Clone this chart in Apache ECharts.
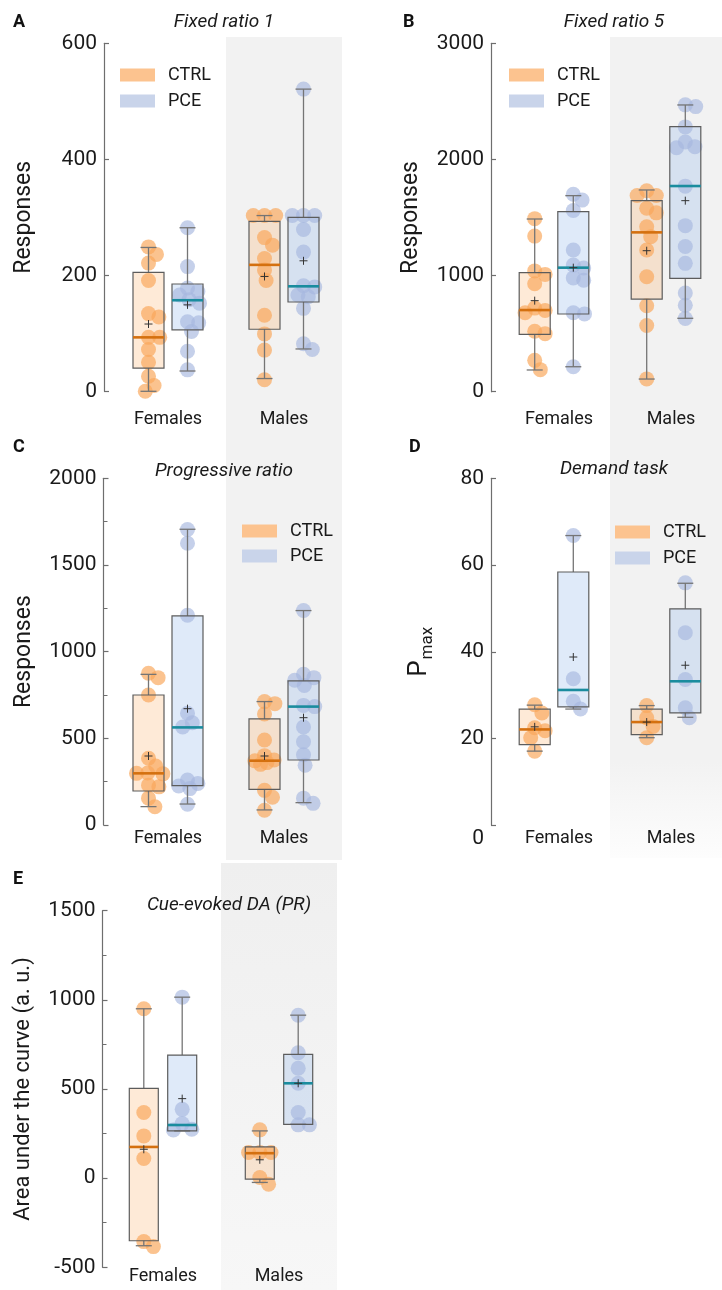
<!DOCTYPE html>
<html><head><meta charset="utf-8">
<script src="https://cdn.jsdelivr.net/npm/echarts@6/dist/echarts.min.js"></script>
<style>html,body{margin:0;padding:0;background:#fff}#c{width:722px;height:1290px}</style>
</head><body><div id="c"></div>
<script>
const FONT = 'Roboto, "Noto Sans", sans-serif';
const categories = ['Females', 'Males'];
const treatments = ['CTRL', 'PCE'];

// ---- A: Fixed ratio 1 ----
const fr1Ticks = [0, 200, 400, 600];
const fr1CtrlFemales = [249, 236, 221, 191, 134, 128, 93, 93, 72, 50, 26, 10, 0];
const fr1CtrlMales = [303, 303, 303, 265, 252, 229, 209, 191, 131, 99, 71, 20];
const fr1PceFemales = [282, 215, 178, 172, 166, 158, 152, 120, 118, 103, 69, 37];
const fr1PceMales = [521, 303, 303, 303, 279, 240, 182, 180, 166, 163, 143, 82, 72];
// [min, q1, median, q3, max, mean] for Females, Males
const fr1CtrlBox = [[0, 40, 93, 205, 248, 116], [22, 107, 218, 293, 303, 198]];
const fr1PceBox = [[35, 106, 157, 185, 282, 149], [73, 154, 181, 300, 521, 225]];

// ---- B: Fixed ratio 5 ----
const fr5Ticks = [0, 1000, 2000, 3000];
const fr5CtrlFemales = [1490, 1340, 1040, 1010, 930, 720, 700, 680, 520, 500, 270, 190];
const fr5CtrlMales = [1730, 1690, 1690, 1580, 1540, 1420, 1335, 1220, 990, 740, 570, 110];
const fr5PceFemales = [1700, 1650, 1560, 1220, 1090, 1065, 980, 960, 680, 670, 215];
const fr5PceMales = [2470, 2455, 2280, 2150, 2110, 2100, 1770, 1430, 1250, 1105, 850, 745, 630];
const fr5CtrlBox = [[187, 494, 703, 1025, 1487, 784], [109, 798, 1372, 1645, 1737, 1214]];
const fr5PceBox = [[215, 669, 1068, 1550, 1688, 1068], [632, 976, 1771, 2282, 2469, 1645]];

// ---- C: Progressive ratio ----
const prTicks = [0, 500, 1000, 1500, 2000];
const prCtrlFemales = [875, 850, 750, 385, 340, 300, 298, 295, 230, 220, 155, 105];
const prCtrlMales = [712, 700, 640, 490, 400, 375, 370, 360, 350, 200, 160, 85];
const prPceFemales = [1705, 1625, 1210, 645, 590, 565, 260, 240, 225, 210, 120];
const prPceMales = [1237, 870, 850, 835, 805, 690, 683, 565, 480, 405, 345, 155, 125];
const prCtrlBox = [[106, 196, 298, 750, 869, 398], [87, 206, 371, 612, 712, 398]];
const prPceBox = [[121, 227, 563, 1206, 1706, 671], [129, 375, 683, 831, 1237, 619]];

// ---- D: Demand task ----
const dtTicks = [0, 20, 40, 60, 80];
const dtCtrlFemales = [27.8, 25.9, 22.5, 21.8, 20.2, 17.1];
const dtCtrlMales = [27.6, 24.8, 22.8, 20.2];
const dtPceFemales = [66.8, 33.8, 28.6, 26.8];
const dtPceMales = [55.9, 44.4, 33.6, 27.1, 24.8];
const dtCtrlBox = [[17.1, 18.6, 22.1, 26.8, 27.7, 22.7], [20.2, 20.9, 23.8, 26.8, 27.6, 23.8]];
const dtPceBox = [[26.8, 27.3, 31.2, 58.4, 66.8, 38.8], [24.9, 25.9, 33.2, 49.9, 55.8, 36.9]];

// ---- E: Cue-evoked DA (PR) ----
const daTicks = [-500, 0, 500, 1000, 1500];
const daCtrlFemales = [950, 368, 237, 110, -356, -384];
const daCtrlMales = [271, 144, 144, 144, 4, -34];
const daPceFemales = [1015, 386, 306, 274, 270];
const daPceMales = [914, 703, 616, 532, 368, 299, 299];
const daCtrlBox = [[-379, -351, 175, 504, 950, 162], [-24, -6, 140, 175, 265, 103]];
const daPceBox = [[265, 265, 298, 690, 1015, 446], [302, 302, 532, 694, 914, 532]];

const panels = [
  {letter: 'A', title: 'Fixed ratio 1', yName: 'Responses', ticks: fr1Ticks,
   box: {CTRL: fr1CtrlBox, PCE: fr1PceBox}, pts: {CTRL: [fr1CtrlFemales, fr1CtrlMales], PCE: [fr1PceFemales, fr1PceMales]}},
  {letter: 'B', title: 'Fixed ratio 5', yName: 'Responses', ticks: fr5Ticks,
   box: {CTRL: fr5CtrlBox, PCE: fr5PceBox}, pts: {CTRL: [fr5CtrlFemales, fr5CtrlMales], PCE: [fr5PceFemales, fr5PceMales]}},
  {letter: 'C', title: 'Progressive ratio', yName: 'Responses', ticks: prTicks,
   box: {CTRL: prCtrlBox, PCE: prPceBox}, pts: {CTRL: [prCtrlFemales, prCtrlMales], PCE: [prPceFemales, prPceMales]}},
  {letter: 'D', title: 'Demand task', yName: '{p|P}{s|max}', ticks: dtTicks,
   box: {CTRL: dtCtrlBox, PCE: dtPceBox}, pts: {CTRL: [dtCtrlFemales, dtCtrlMales], PCE: [dtPceFemales, dtPceMales]}},
  {letter: 'E', title: 'Cue-evoked DA (PR)', yName: 'Area under the curve (a. u.)', ticks: daTicks,
   box: {CTRL: daCtrlBox, PCE: daPceBox}, pts: {CTRL: [daCtrlFemales, daCtrlMales], PCE: [daPceFemales, daPceMales]}}
];

// ---- layout (pixels) ----
const layouts = [
  {left: 110, top: 43.3, width: 232, height: 348, axOff: 6, nameGap: 68, lblMargin: 19, lblPad: 0, minor: false,
   bg: [37, 420], grad: null, legend: {left: 115, top: 61, gap: 8}, title: [224, 22], letter: [13, 22], boxW: 31, boxOff: 19.5},
  {left: 498, top: 43.3, width: 232, height: 348.4, axOff: 7, nameGap: 68, lblMargin: 19, lblPad: 10, minor: false,
   bg: [37, 420], grad: null, legend: {left: 504, top: 61, gap: 8}, title: [614, 22], letter: [403, 22], boxW: 31, boxOff: 19.3},
  {left: 110, top: 478.3, width: 232, height: 346.7, axOff: 6.5, nameGap: 68, lblMargin: 4, lblPad: 0, minor: true,
   bg: [420, 860], grad: null, legend: {left: 237, top: 517, gap: 7}, title: [224, 471], letter: [13, 447], boxW: 31, boxOff: 19.5},
  {left: 498, top: 478.3, width: 232, height: 347, axOff: 7, nameGap: 55, lblMargin: 4, lblPad: 10, minor: false,
   bg: [420, 858], grad: [{offset: 0, color: '#f2f2f2'}, {offset: 0.78, color: '#f2f2f2'}, {offset: 1, color: '#fdfdfd'}],
   legend: {left: 610, top: 518, gap: 8}, title: [614, 469], letter: [409, 447], boxW: 31, boxOff: 19.3},
  {left: 105, top: 910.7, width: 232, height: 356.6, axOff: 2.5, nameGap: 68, lblMargin: 0, lblPad: 0, minor: true,
   bg: [863, 1290], grad: [{offset: 0, color: '#efefef'}, {offset: 1, color: '#f7f7f7'}],
   legend: null, title: [229, 905], letter: [13, 879], boxW: 29, boxOff: 19.2}
];

const style = {
  CTRL: {swatch: '#fcc38f', point: 'rgba(249,166,90,0.68)', fill: 'rgba(250,180,110,0.28)', median: '#d4700f'},
  PCE: {swatch: '#c9d4ea', point: 'rgba(166,183,222,0.65)', fill: 'rgba(150,185,235,0.3)', median: '#1a8c9e'}
};
const dir = {CTRL: -1, PCE: 1};

function swarm(ys, minD, maxOff) {
  const order = ys.map((y, i) => i).sort((a, b) => ys[a] - ys[b]);
  const placed = [];
  const off = new Array(ys.length).fill(0);
  const cands = [0];
  for (let k = 1; k <= 30; k++) { cands.push(k * 0.8, -k * 0.8); }
  for (const i of order) {
    let best = null, bestScore = -1, bestDx = 0;
    for (const dx of cands) {
      if (Math.abs(dx) > maxOff) continue;
      let mn = Infinity;
      for (const p of placed) {
        const d = Math.hypot(p.x - dx, p.y - ys[i]);
        if (d < mn) mn = d;
      }
      if (mn >= minD) { best = dx; break; }
      if (mn > bestScore) { bestScore = mn; bestDx = dx; }
    }
    if (best === null) best = bestDx;
    off[i] = best;
    placed.push({x: best, y: ys[i]});
  }
  return off;
}

const grids = [], xAxes = [], yAxes = [], series = [], legends = [], graphics = [];

panels.forEach((P, i) => {
  const L = layouts[i];
  grids.push({left: L.left, top: L.top, width: L.width, height: L.height});
  xAxes.push({gridIndex: i, type: 'category', data: categories, boundaryGap: true, z: 6,
    axisLine: {show: false}, axisTick: {show: false}, splitLine: {show: false},
    axisLabel: {fontSize: 18, color: '#1a1a1a', fontFamily: FONT, margin: L.lblMargin, padding: [0, 0, 0, L.lblPad]}});
  const t = P.ticks;
  const yAx = {gridIndex: i, type: 'value', min: t[0], max: t[t.length - 1], interval: t[1] - t[0], offset: L.axOff, z: 6,
    axisLine: {show: true, lineStyle: {color: '#6e6e6e', width: 1.2}},
    axisTick: {show: true, inside: true, length: 5, lineStyle: {color: '#6e6e6e', width: 1.2}},
    minorTick: {show: L.minor, splitNumber: 2, length: 4, lineStyle: {color: '#6e6e6e', width: 1}},
    splitLine: {show: false},
    axisLabel: {fontSize: 21, color: '#1a1a1a', fontFamily: FONT, margin: 7, formatter: v => String(v)},
    name: P.yName, nameLocation: 'middle', nameGap: L.nameGap,
    nameTextStyle: {fontSize: 23, color: '#1a1a1a', fontFamily: FONT}};
  if (P.letter === 'D') {
    yAx.axisLabel.formatter = v => v === 0 ? '{z|0}' : String(v);
    yAx.axisLabel.rich = {z: {fontSize: 21, color: '#1a1a1a', fontFamily: FONT, padding: [26, 0, 0, 0]}};
    yAx.nameTextStyle.rich = {
      p: {fontSize: 26, color: '#1a1a1a', fontFamily: FONT},
      s: {fontSize: 17, color: '#1a1a1a', fontFamily: FONT, padding: [16, 0, 0, 1]}
    };
  }
  if (P.letter === 'E') yAx.nameTextStyle.fontSize = 22;
  yAxes.push(yAx);

  // grey background behind "Males"
  series.push({type: 'custom', xAxisIndex: i, yAxisIndex: i, z: 1, silent: true, clip: false,
    data: [[1, t[0]]],
    renderItem: (params, api) => {
      const c = api.coord([api.value(0), api.value(1)]);
      const bw = api.size([1, 0])[0];
      const x0 = c[0] - bw / 2, x1 = Math.min(c[0] + bw / 2, 722);
      const fill = L.grad ? new echarts.graphic.LinearGradient(0, 0, 0, 1, L.grad) : '#f2f2f2';
      return {type: 'rect', shape: {x: x0, y: L.bg[0], width: x1 - x0, height: L.bg[1] - L.bg[0]}, style: {fill: fill}};
    }});

  treatments.forEach(tr => {
    const st = style[tr];
    const dx = dir[tr] * L.boxOff;
    const boxData = P.box[tr].map((b, k) => [k].concat(b));
    // box fill
    series.push({type: 'custom', name: tr + ' box', xAxisIndex: i, yAxisIndex: i, z: 2, silent: true, clip: false,
      data: boxData, encode: {x: 0, y: [1, 2, 3, 4, 5]},
      renderItem: (params, api) => {
        const cat = api.value(0);
        const x = api.coord([cat, 0])[0] + dx;
        const yq3 = api.coord([cat, api.value(4)])[1], yq1 = api.coord([cat, api.value(2)])[1];
        return {type: 'rect', shape: {x: x - L.boxW / 2, y: yq3, width: L.boxW, height: yq1 - yq3}, style: {fill: st.fill}};
      }});
    // points
    const ptData = [];
    P.pts[tr].forEach((arr, k) => arr.forEach(v => ptData.push([k, v])));
    series.push({type: 'custom', name: tr, xAxisIndex: i, yAxisIndex: i, z: 3, silent: true, clip: false,
      itemStyle: {color: st.swatch},
      data: ptData, encode: {x: 0, y: 1},
      renderItem: (params, api) => {
        const cat = api.value(0);
        const idx = [], ys = [];
        ptData.forEach((d, j) => { if (d[0] === cat) { idx.push(j); ys.push(api.coord([d[0], d[1]])[1]); } });
        const offs = swarm(ys, 10.5, 15);
        const me = idx.indexOf(params.dataIndex);
        const x = api.coord([cat, 0])[0] + dx + offs[me];
        return {type: 'circle', shape: {cx: x, cy: ys[me], r: 7.5}, style: {fill: st.point}};
      }});
  });
  treatments.forEach(tr => {
    const st = style[tr];
    const dx = dir[tr] * L.boxOff;
    const boxData = P.box[tr].map((b, k) => [k].concat(b));
    series.push({type: 'custom', name: tr + ' lines', xAxisIndex: i, yAxisIndex: i, z: 4, silent: true, clip: false,
      data: boxData, encode: {x: 0, y: [1, 2, 3, 4, 5]},
      renderItem: (params, api) => {
        const cat = api.value(0);
        const x = api.coord([cat, 0])[0] + dx;
        const y = k => api.coord([cat, api.value(k)])[1];
        const yMin = y(1), yQ1 = y(2), yMed = y(3), yQ3 = y(4), yMax = y(5), yMean = y(6);
        const w = L.boxW / 2;
        const wl = {stroke: '#757575', lineWidth: 1.3};
        const ln = (x1, y1, x2, y2, s) => ({type: 'line', shape: {x1, y1, x2, y2}, style: s});
        return {type: 'group', children: [
          ln(x, yQ3, x, yMax, wl), ln(x, yQ1, x, yMin, wl),
          ln(x - 8, yMax, x + 8, yMax, wl), ln(x - 8, yMin, x + 8, yMin, wl),
          {type: 'rect', shape: {x: x - w, y: yQ3, width: L.boxW, height: yQ1 - yQ3}, style: {fill: 'none', stroke: '#5c5c5c', lineWidth: 1.2}},
          ln(x - w, yMed, x + w, yMed, {stroke: st.median, lineWidth: 2.6}),
          ln(x - 4, yMean, x + 4, yMean, {stroke: '#333', lineWidth: 1}),
          ln(x, yMean - 4, x, yMean + 4, {stroke: '#333', lineWidth: 1})
        ]};
      }});
  });

  if (L.legend) {
    legends.push({left: L.legend.left, top: L.legend.top, orient: 'vertical', data: treatments, icon: 'rect',
      itemWidth: 35, itemHeight: 13, itemGap: L.legend.gap, selectedMode: false, z: 8,
      textStyle: {fontSize: 18, lineHeight: 18, color: '#1a1a1a', fontFamily: FONT, padding: [0, 0, 0, 8]}});
  }
  graphics.push({type: 'text', x: L.title[0], y: L.title[1], z: 10,
    style: {text: P.title, fontSize: 19, fontStyle: 'italic', fontFamily: FONT, fill: '#1a1a1a', align: 'center', verticalAlign: 'middle'}});
  graphics.push({type: 'text', x: L.letter[0], y: L.letter[1], z: 10,
    style: {text: P.letter, fontSize: 18, fontWeight: 'bold', fontFamily: FONT, fill: '#111', align: 'left', verticalAlign: 'middle'}});
});

const chart = echarts.init(document.getElementById('c'), null, {renderer: 'canvas', width: 722, height: 1290});
chart.setOption({
  animation: false,
  backgroundColor: '#ffffff',
  grid: grids, xAxis: xAxes, yAxis: yAxes, series: series, legend: legends, graphic: graphics
});
</script>
</body></html>
